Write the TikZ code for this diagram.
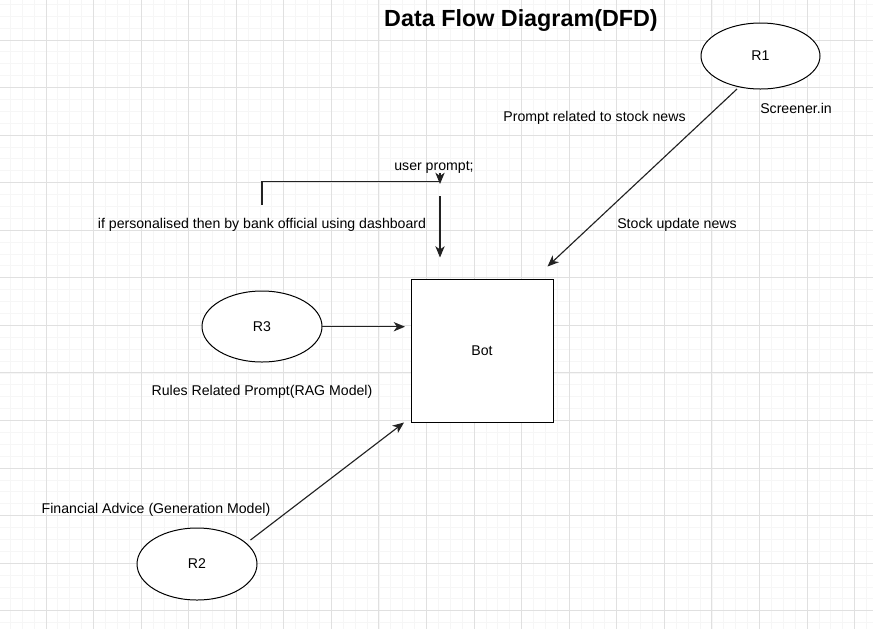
\documentclass[tikz,border=0pt]{standalone}
\usepackage{fontspec}
\setmainfont{Liberation Sans}
\usetikzlibrary{arrows.meta,shapes.geometric}
\definecolor{minorc}{HTML}{F6F6F6}
\definecolor{majorc}{HTML}{E0E0E0}
\definecolor{edgec}{HTML}{222222}
\tikzset{
  minorgrid/.style={draw=minorc,line width=0.75pt},
  majorgrid/.style={draw=majorc,line width=0.75pt},
  proc/.style={ellipse,draw=black,line width=0.75pt,fill=white,inner sep=0pt,font=\fontsize{10.6}{12}\selectfont},
  botbox/.style={rectangle,draw=black,line width=0.75pt,fill=white,inner sep=0pt,font=\fontsize{10.6}{12}\selectfont},
  lbl/.style={inner sep=0pt,font=\fontsize{10.6}{12}\selectfont},
  flow/.style={draw=edgec,line width=0.85pt,-{Stealth[length=8.5pt,width=7pt,inset=2.5pt]}},
  plainflow/.style={draw=edgec,line width=0.85pt},
}
\begin{document}
\begin{tikzpicture}[x=0.75pt,y=-0.75pt]
\useasboundingbox (0,0) rectangle (873,629);
\fill[white] (0,0) rectangle (873,629);
% grid
\foreach \i in {0,...,74} \draw[minorgrid] ({-1.57+11.893*\i},0) -- ({-1.57+11.893*\i},629);
\foreach \j in {0,...,54} \draw[minorgrid] (0,{-7.57+11.893*\j}) -- (873,{-7.57+11.893*\j});
\foreach \i in {0,...,17} \draw[majorgrid] ({46+47.57*\i},0) -- ({46+47.57*\i},629);
\foreach \j in {0,...,12} \draw[majorgrid] (0,{40+47.57*\j}) -- (873,{40+47.57*\j});

% title
\node[inner sep=0pt,font=\fontsize{17.5}{20}\selectfont\bfseries] (title) at (521,20.5) {Data Flow Diagram(DFD)};

% nodes
\node[proc,minimum width=89.25pt,minimum height=49.5pt] (r1) at (760.5,56) {R1};
\node[proc,minimum width=90pt,minimum height=53.25pt] (r3) at (262,326.5) {R3};
\node[proc,minimum width=90pt,minimum height=54pt] (r2) at (197,564) {R2};
\node[botbox,minimum width=106.5pt,minimum height=107.25pt] (bot) at (482,350.5) {Bot};

% labels
\node[lbl] (lscreener) at (796,108.5) {Screener.in};
\node[lbl] (lprompt) at (594.5,118) {Prompt related to stock news};
\node[lbl] (lstock) at (677,224.5) {Stock update news};
\node[lbl] (luser) at (434,167) {user prompt;};
\node[lbl] (lpers) at (262,224.5) {if personalised then by bank official using dashboard};
\node[lbl] (lrules) at (262,392) {Rules Related Prompt(RAG Model)};
\node[lbl] (lfin) at (156,509.5) {Financial Advice (Generation Model)};

% connector end points
\coordinate (r1s) at (737,89);
\coordinate (botne) at (547.5,266.5);
\coordinate (r2s) at (250.5,540);
\coordinate (botsw) at (404,422.5);
\coordinate (r3e) at (322,326.7);
\coordinate (botw) at (405,326.7);
\coordinate (pstart) at (262,205);
\coordinate (pcorner) at (440,181.7);
\coordinate (ptipa) at (440,173);
\coordinate (ptipb) at (440,184);
\coordinate (ustart) at (440,196);
\coordinate (uend) at (440,257.5);

% connectors
\draw[flow] (r1s) -- (botne);
\draw[flow] (r2s) -- (botsw);
\draw[flow] (r3e) -- (botw);
\draw[plainflow] (pstart) |- (pcorner);
\draw[flow] (ptipa) -- (ptipb);
\draw[flow] (ustart) -- (uend);
\end{tikzpicture}
\end{document}
